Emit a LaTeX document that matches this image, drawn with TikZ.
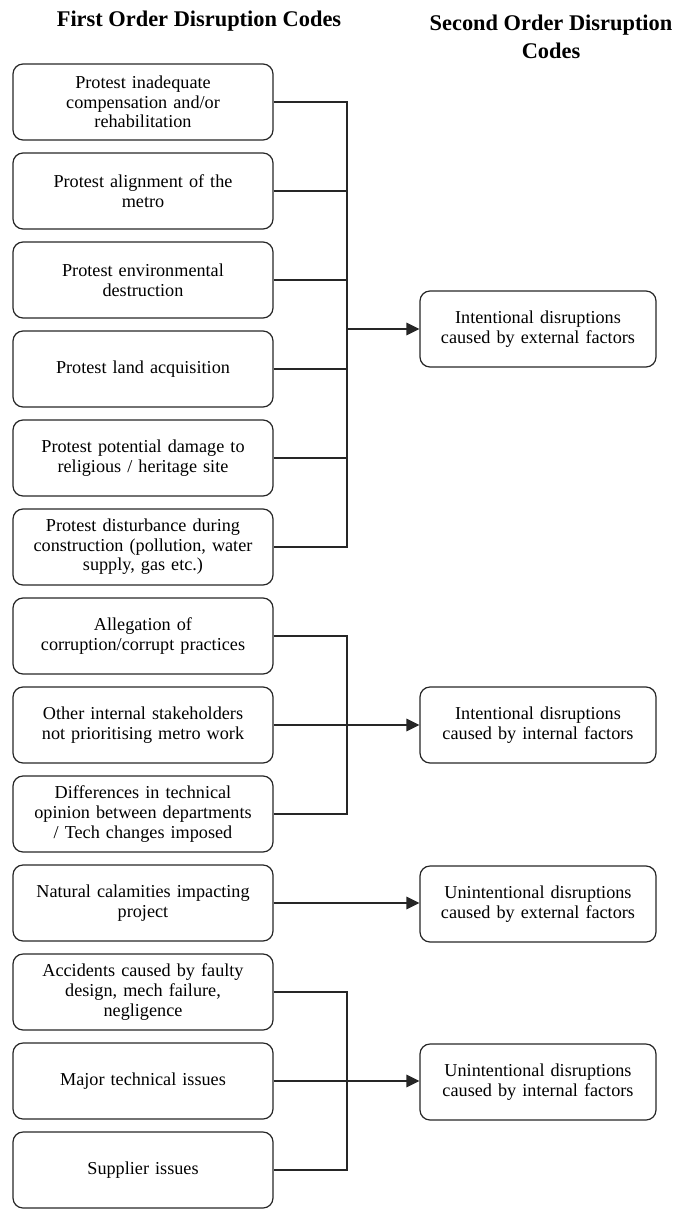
\documentclass[tikz,border=0pt]{standalone}
\usepackage{fontspec}
\setmainfont{Liberation Serif}
\usetikzlibrary{arrows.meta}
\begin{document}
\begin{tikzpicture}[x=1pt,y=-1pt,
  fbox/.style={draw=black!85, line width=1.2pt, rounded corners=10pt,
    minimum width=260pt, minimum height=76pt, inner sep=0pt, text width=254pt,
    align=center, font=\fontsize{18.2}{19.6}\selectfont},
  sbox/.style={fbox, minimum width=236pt, text width=230pt},
  head/.style={font=\fontsize{22.4}{28}\selectfont\bfseries, align=center, inner sep=0pt},
  conn/.style={line width=1.1pt, draw=black!85},
  arr/.style={conn, line width=1.4pt, -{Triangle[length=13pt,width=12.5pt]}}]
\useasboundingbox (0,0) rectangle (676,1209);
\coordinate (jx) at (347,0);

\node[head] (h1) at (199,21) {First Order Disruption Codes};
\node[head] (h2) at (551,37) {Second Order Disruption\\Codes};

\node[fbox] (a1) at (143,102) {Protest inadequate\\compensation and/or\\rehabilitation};
\node[fbox] (a2) at (143,191) {Protest alignment of the\\metro};
\node[fbox] (a3) at (143,280) {Protest environmental\\destruction};
\node[fbox] (a4) at (143,369) {Protest land acquisition};
\node[fbox] (a5) at (143,458) {Protest potential damage to\\religious / heritage site};
\node[fbox] (a6) at (143,547) {Protest disturbance during\\construction (pollution, water\\supply, gas etc.)};
\node[fbox] (a7) at (143,636) {Allegation of\\corruption/corrupt practices};
\node[fbox] (a8) at (143,725) {Other internal stakeholders\\not prioritising metro work};
\node[fbox] (a9) at (143,814) {Differences in technical\\opinion between departments\\/ Tech changes imposed};
\node[fbox] (a10) at (143,903) {Natural calamities impacting\\project};
\node[fbox] (a11) at (143,992) {Accidents caused by faulty\\design, mech failure,\\negligence};
\node[fbox] (a12) at (143,1081) {Major technical issues};
\node[fbox] (a13) at (143,1170) {Supplier issues};

\node[sbox] (b1) at (538,329) {Intentional disruptions\\caused by external factors};
\node[sbox] (b2) at (538,725) {Intentional disruptions\\caused by internal factors};
\node[sbox] (b3) at (538,904) {Unintentional disruptions\\caused by external factors};
\node[sbox] (b4) at (538,1082) {Unintentional disruptions\\caused by internal factors};

% group 1
\draw[conn] (a1.east) -- (a1.east -| jx) -- (a6.east -| jx) -- (a6.east);
\foreach \n in {a2,a3,a4,a5} \draw[conn] (\n.east) -- (\n.east -| jx);
\draw[arr] (b1.west -| jx) -- (b1.west);
% group 2
\draw[conn] (a7.east) -- (a7.east -| jx) -- (a9.east -| jx) -- (a9.east);
\draw[arr] (a8.east) -- (a8.east -| b2.west);
% group 3
\draw[arr] (a10.east) -- (a10.east -| b3.west);
% group 4
\draw[conn] (a11.east) -- (a11.east -| jx) -- (a13.east -| jx) -- (a13.east);
\draw[arr] (a12.east) -- (a12.east -| b4.west);
\end{tikzpicture}
\end{document}
